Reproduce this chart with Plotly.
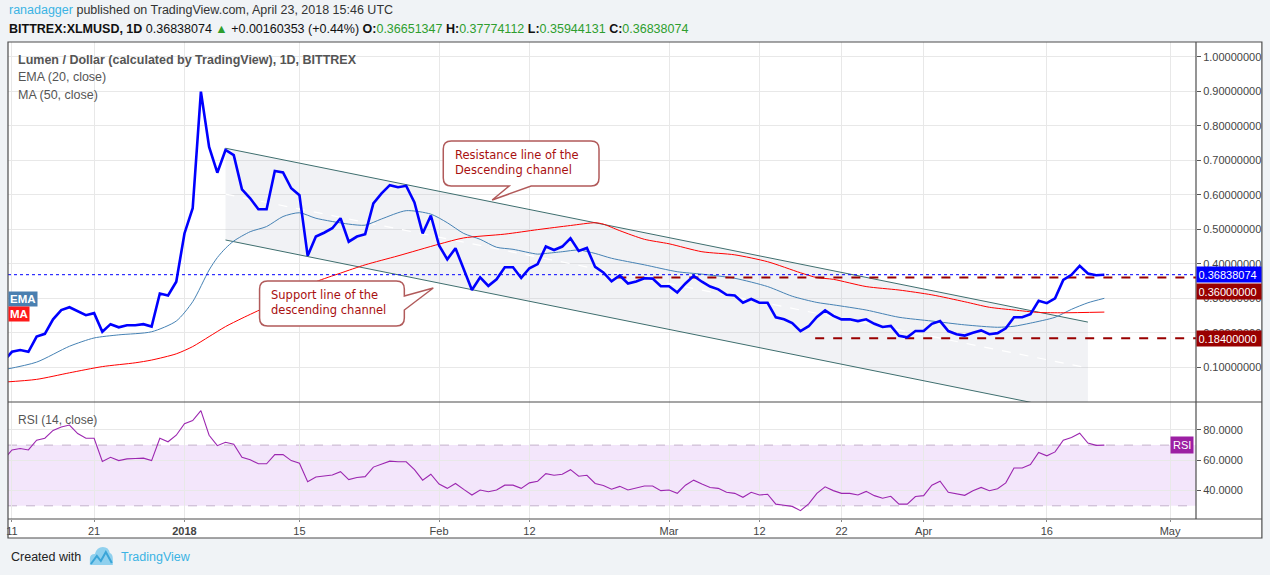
import pandas as pd
import plotly.graph_objects as go
from plotly.subplots import make_subplots

# ---------------- data ----------------
close_start = "2017-12-10"
close = [0.118, 0.145, 0.150, 0.145, 0.189, 0.197, 0.239, 0.266, 0.274, 0.262,
         0.251, 0.257, 0.203, 0.225, 0.216, 0.222, 0.222, 0.225, 0.218, 0.314,
         0.308, 0.348, 0.488, 0.561, 0.899, 0.739, 0.664, 0.730, 0.715, 0.616,
         0.590, 0.558, 0.558, 0.669, 0.665, 0.619, 0.599, 0.423, 0.479, 0.490,
         0.503, 0.532, 0.464, 0.479, 0.486, 0.575, 0.604, 0.628, 0.622, 0.626,
         0.578, 0.488, 0.540, 0.453, 0.413, 0.445, 0.382, 0.324, 0.361, 0.336,
         0.355, 0.390, 0.390, 0.359, 0.387, 0.399, 0.450, 0.440, 0.450, 0.474,
         0.437, 0.446, 0.391, 0.375, 0.349, 0.366, 0.343, 0.349, 0.358, 0.357,
         0.335, 0.335, 0.317, 0.343, 0.365, 0.348, 0.334, 0.326, 0.310, 0.308,
         0.287, 0.298, 0.287, 0.287, 0.245, 0.239, 0.228, 0.205, 0.219, 0.246,
         0.265, 0.249, 0.239, 0.239, 0.234, 0.239, 0.226, 0.217, 0.220, 0.191,
         0.187, 0.205, 0.205, 0.226, 0.234, 0.205, 0.196, 0.192, 0.200, 0.207,
         0.196, 0.199, 0.213, 0.245, 0.245, 0.254, 0.293, 0.286, 0.300, 0.353,
         0.368, 0.394, 0.372, 0.367, 0.36838074]

rsi = [60.5, 66.8, 67.8, 66.8, 73.2, 74.5, 79.7, 81.9, 83.2, 77.6,
       74.5, 74.5, 59.2, 62.0, 59.8, 60.9, 61.2, 61.4, 59.8, 74.5,
       72.2, 76.5, 84.1, 86.2, 92.7, 76.5, 69.6, 71.9, 70.6, 62.0,
       60.3, 57.7, 57.7, 63.7, 63.7, 59.8, 58.1, 45.8, 49.0, 49.7,
       50.3, 52.5, 47.3, 48.6, 49.2, 55.5, 57.7, 59.4, 59.0, 59.0,
       53.8, 46.9, 50.8, 44.3, 41.5, 44.7, 40.8, 37.1, 40.4, 39.3,
       40.4, 43.6, 43.6, 41.5, 45.1, 46.2, 51.2, 50.1, 50.8, 53.8,
       49.5, 50.1, 44.7, 43.4, 40.9, 42.8, 40.4, 41.5, 43.0, 43.0,
       40.0, 40.4, 38.2, 43.6, 46.9, 44.3, 42.1, 41.5, 38.9, 38.2,
       35.6, 38.9, 37.1, 37.6, 31.1, 30.4, 29.6, 26.8, 31.3, 38.2,
       42.5, 40.0, 38.2, 38.2, 37.1, 39.5, 36.7, 35.0, 36.3, 31.1,
       31.1, 36.1, 36.7, 43.6, 46.2, 38.9, 37.8, 36.9, 39.9, 42.1,
       39.9, 41.2, 45.1, 54.9, 54.9, 57.2, 65.2, 62.9, 65.5, 73.2,
       75.0, 77.8, 71.3, 69.8, 70.0]

ema_dates = ["2017-12-10", "2017-12-14", "2017-12-18", "2017-12-21", "2017-12-24",
             "2017-12-28", "2017-12-31", "2018-01-02", "2018-01-04", "2018-01-05",
             "2018-01-06", "2018-01-07", "2018-01-09", "2018-01-11", "2018-01-13",
             "2018-01-15", "2018-01-17", "2018-01-21", "2018-01-23", "2018-01-25",
             "2018-01-28", "2018-01-31", "2018-02-02", "2018-02-04", "2018-02-06",
             "2018-02-08", "2018-02-10", "2018-02-13", "2018-02-14", "2018-02-16",
             "2018-02-18", "2018-02-20", "2018-02-22", "2018-02-26", "2018-03-02",
             "2018-03-05", "2018-03-09", "2018-03-13", "2018-03-16", "2018-03-19",
             "2018-03-21", "2018-03-25", "2018-03-29", "2018-04-02", "2018-04-06",
             "2018-04-10", "2018-04-12", "2018-04-14", "2018-04-17", "2018-04-19",
             "2018-04-21", "2018-04-23"]
ema = [0.093, 0.115, 0.161, 0.185, 0.194, 0.203, 0.234, 0.290, 0.382, 0.418,
       0.445, 0.466, 0.493, 0.508, 0.537, 0.548, 0.532, 0.515, 0.512, 0.530,
       0.554, 0.544, 0.519, 0.488, 0.471, 0.448, 0.442, 0.428, 0.430, 0.435,
       0.440, 0.430, 0.416, 0.397, 0.377, 0.370, 0.358, 0.334, 0.306, 0.288,
       0.281, 0.266, 0.245, 0.234, 0.223, 0.216, 0.219, 0.228, 0.245, 0.268,
       0.287, 0.300]

ma_dates = ["2017-12-10", "2017-12-14", "2017-12-18", "2017-12-22", "2017-12-26",
            "2017-12-28", "2017-12-31", "2018-01-02", "2018-01-04", "2018-01-06",
            "2018-01-08", "2018-01-11", "2018-01-14", "2018-01-17", "2018-01-20",
            "2018-01-23", "2018-01-27", "2018-02-01", "2018-02-04", "2018-02-09",
            "2018-02-13", "2018-02-17", "2018-02-20", "2018-02-21", "2018-02-23",
            "2018-02-26", "2018-03-01", "2018-03-05", "2018-03-09", "2018-03-13",
            "2018-03-17", "2018-03-19", "2018-03-21", "2018-03-25", "2018-03-29",
            "2018-04-02", "2018-04-06", "2018-04-09", "2018-04-12", "2018-04-15",
            "2018-04-18", "2018-04-23"]
ma = [0.057, 0.065, 0.084, 0.102, 0.113, 0.121, 0.139, 0.160, 0.189, 0.218,
      0.242, 0.276, 0.314, 0.348, 0.373, 0.397, 0.423, 0.457, 0.475, 0.486,
      0.499, 0.511, 0.519, 0.515, 0.496, 0.471, 0.458, 0.435, 0.426, 0.406,
      0.374, 0.360, 0.355, 0.334, 0.324, 0.310, 0.290, 0.274, 0.266, 0.259,
      0.258, 0.260]

channel_dates = ["2018-01-06", "2018-04-21"]
channel_upper = [0.735, 0.231]
channel_lower = [0.469, -0.035]
channel_mid = [0.602, 0.098]

resistance_level = 0.36
resistance_start = "2018-02-22 17:00"
support_level = 0.184
support_start = "2018-03-18 19:00"
last_price = 0.36838074

x_range = ["2017-12-10 12:20", "2018-05-04 03:50"]
tick_dates = ["2017-12-11", "2017-12-21", "2018-01-01", "2018-01-15", "2018-02-01",
              "2018-02-12", "2018-03-01", "2018-03-12", "2018-03-22", "2018-04-01",
              "2018-04-16", "2018-05-01"]
tick_text = ["11", "21", "<b>2018</b>", "15", "Feb", "12", "Mar", "12", "22", "Apr", "16", "May"]
price_ticks = [0.1, 0.2, 0.3, 0.4, 0.5, 0.6, 0.7, 0.8, 0.9, 1.0]
rsi_ticks = [40, 60, 80]

hdr_open, hdr_high, hdr_low, hdr_close = "0.36651347", "0.37774112", "0.35944131", "0.36838074"
hdr_change, hdr_pct = "+0.00160353", "(+0.44%)"

dates = pd.date_range(close_start, periods=len(close), freq="D")

# ---------------- geometry helpers (pixels -> paper) ----------------
W, H = 1270, 575
L, R, T, B = 6, 1196, 42, 519
def PX(px):
    return (px - L) / (R - L)
def PY(py):
    return (B - py) / (B - T)

BG = "#f0f3f6"
GRID = "#e8e8e8"
AX = "#555555"
TXT = "#4a4a4a"
GREEN = "#2e9e2e"
DARKRED = "#990000"

fig = make_subplots(rows=2, cols=1, shared_xaxes=True, vertical_spacing=0,
                    row_heights=[360 / 477, 117 / 477])

# channel fill
fig.add_trace(go.Scatter(
    x=[channel_dates[0], channel_dates[1], channel_dates[1], channel_dates[0]],
    y=[channel_upper[0], channel_upper[1], channel_lower[1], channel_lower[0]],
    fill="toself", fillcolor="rgba(170,180,195,0.17)", line=dict(width=0),
    mode="lines", hoverinfo="skip", showlegend=False), row=1, col=1)
fig.add_trace(go.Scatter(x=channel_dates, y=channel_mid, mode="lines",
                         line=dict(color="white", width=1.2, dash="dash"),
                         hoverinfo="skip", showlegend=False), row=1, col=1)
for yy in (channel_upper, channel_lower):
    fig.add_trace(go.Scatter(x=channel_dates, y=yy, mode="lines",
                             line=dict(color="#3e6e6e", width=1),
                             hoverinfo="skip", showlegend=False), row=1, col=1)

# EMA and MA
fig.add_trace(go.Scatter(x=ema_dates, y=ema, mode="lines",
                         line=dict(color="#4682b4", width=1, shape="spline", smoothing=0.7),
                         showlegend=False), row=1, col=1)
fig.add_trace(go.Scatter(x=ma_dates, y=ma, mode="lines",
                         line=dict(color="#ff0000", width=1, shape="spline", smoothing=0.7),
                         showlegend=False), row=1, col=1)

# horizontal levels
fig.add_trace(go.Scatter(x=[resistance_start, "2018-05-20"], y=[resistance_level] * 2,
                         mode="lines", line=dict(color=DARKRED, width=2, dash="dash"),
                         showlegend=False), row=1, col=1)
fig.add_trace(go.Scatter(x=[support_start, "2018-05-20"], y=[support_level] * 2,
                         mode="lines", line=dict(color=DARKRED, width=2, dash="dash"),
                         showlegend=False), row=1, col=1)

# close
fig.add_trace(go.Scatter(x=dates, y=close, mode="lines",
                         line=dict(color="#0000ff", width=2.6), showlegend=False),
              row=1, col=1)
# last price line
fig.add_trace(go.Scatter(x=[x_range[0], "2018-05-20"], y=[last_price] * 2, mode="lines",
                         line=dict(color="#0000ff", width=1, dash="dot"),
                         showlegend=False), row=1, col=1)

# RSI
fig.add_trace(go.Scatter(x=dates, y=rsi, mode="lines",
                         line=dict(color="#9c27b0", width=1.1), showlegend=False),
              row=2, col=1)

shapes = []
# white area for axes (below everything)
shapes.append(dict(type="rect", xref="paper", yref="paper", x0=PX(6), x1=PX(1262),
                   y0=PY(538), y1=PY(42), line=dict(width=0), fillcolor="white", layer="below"))
# RSI band
shapes.append(dict(type="rect", xref="x2", yref="y2", x0=x_range[0], x1=x_range[1], y0=30, y1=70,
                   fillcolor="#f3e6fb", line=dict(width=0), layer="below"))
for lv in (30, 70):
    shapes.append(dict(type="line", xref="x2", yref="y2", x0=x_range[0], x1=x_range[1], y0=lv, y1=lv,
                       line=dict(color="#c4b2cc", width=1, dash="dash"), layer="below"))

# frame
shapes.append(dict(type="rect", xref="paper", yref="paper", x0=PX(6), x1=PX(1262),
                   y0=PY(538), y1=PY(42), line=dict(color="#4d4d4d", width=1.2),
                   fillcolor="rgba(0,0,0,0)", layer="above"))
shapes.append(dict(type="line", xref="paper", yref="paper", x0=PX(6), x1=PX(1262),
                   y0=PY(402), y1=PY(402), line=dict(color="#4d4d4d", width=1.2), layer="above"))
shapes.append(dict(type="line", xref="paper", yref="paper", x0=PX(6), x1=PX(1262),
                   y0=PY(519), y1=PY(519), line=dict(color="#4d4d4d", width=1.2), layer="above"))
shapes.append(dict(type="line", xref="paper", yref="paper", x0=PX(1196), x1=PX(1196),
                   y0=PY(519), y1=PY(42), line=dict(color="#4d4d4d", width=1.2), layer="above"))


def path_from(points):
    s = ""
    for cmd, pts in points:
        s += cmd + " ".join("%.5f,%.5f" % (PX(a), PY(b)) for a, b in pts) + " "
    return s + "Z"


def callout(x0, y0, x1, y1, r, tail_side, tail):
    pts = [("M", [(x0 + r, y0)])]
    pts.append(("L", [(x1 - r, y0)]))
    pts.append(("Q", [(x1, y0), (x1, y0 + r)]))
    if tail_side == "right":
        pts.append(("L", [(x1, tail[0])]))
        pts.append(("L", [tail[1]]))
        pts.append(("L", [(x1, tail[2])]))
    pts.append(("L", [(x1, y1 - r)]))
    pts.append(("Q", [(x1, y1), (x1 - r, y1)]))
    if tail_side == "bottom":
        pts.append(("L", [(tail[0], y1)]))
        pts.append(("L", [tail[1]]))
        pts.append(("L", [(tail[2], y1)]))
    pts.append(("L", [(x0 + r, y1)]))
    pts.append(("Q", [(x0, y1), (x0, y1 - r)]))
    pts.append(("L", [(x0, y0 + r)]))
    pts.append(("Q", [(x0, y0), (x0 + r, y0)]))
    return path_from(pts)


shapes.append(dict(type="path", xref="paper", yref="paper",
                   path=callout(442, 141, 598, 186, 8, "bottom", (530, (491, 200), 508)),
                   fillcolor="white", line=dict(color="#b15a5a", width=1.5), layer="above"))
shapes.append(dict(type="path", xref="paper", yref="paper",
                   path=callout(258, 281, 403, 326, 8, "right", (296, (432, 288), 310)),
                   fillcolor="white", line=dict(color="#b15a5a", width=1.5), layer="above"))

# TradingView logo (simplified)
shapes.append(dict(type="path", xref="paper", yref="paper",
                   path=path_from([("M", [(88, 565)]), ("L", [(88, 559)]),
                                   ("Q", [(88, 554), (93, 554)]),
                                   ("Q", [(95, 547), (101, 547)]),
                                   ("Q", [(107, 547), (108, 553)]),
                                   ("Q", [(111, 554), (111, 559)]),
                                   ("L", [(111, 565)])]),
                   fillcolor="#8fd0ee", line=dict(width=0), layer="above"))
shapes.append(dict(type="path", xref="paper", yref="paper",
                   path="M%.5f,%.5f L%.5f,%.5f L%.5f,%.5f L%.5f,%.5f L%.5f,%.5f" % (
                       PX(89), PY(564), PX(95), PY(556), PX(99), PY(561), PX(104), PY(552), PX(110), PY(563)),
                   line=dict(color="#3aa5d8", width=2), layer="above"))

annotations = []


def ann(text, px, py, size=13, color=TXT, family="Liberation Sans, Arial, sans-serif",
        xanchor="left", yanchor="middle", **kw):
    annotations.append(dict(text=text, x=PX(px), y=PY(py), xref="paper", yref="paper",
                            xanchor=xanchor, yanchor=yanchor, showarrow=False,
                            font=dict(size=size, color=color, family=family), **kw))


# header
ann("<span style='color:#3bb3e4'>ranadagger</span> published on TradingView.com, April 23, 2018 15:46 UTC",
    5, 10, size=12.5, color="#333")
g = lambda s: "<span style='color:%s'>%s</span>" % (GREEN, s)
ann("<b>BITTREX:XLMUSD, 1D</b> %s %s %s %s <b>O:</b>%s <b>H:</b>%s <b>L:</b>%s <b>C:</b>%s" % (
    hdr_close, g("▲"), hdr_change, hdr_pct, g(hdr_open), g(hdr_high), g(hdr_low), g(hdr_close)),
    5, 29, size=12.5, color="#111")
# legend text
ann("<b>Lumen / Dollar (calculated by TradingView), 1D, BITTREX</b>", 14, 60, size=12.5, color="#555")
ann("EMA (20, close)", 14, 77, size=12.5, color="#555")
ann("MA (50, close)", 14, 95, size=12.5, color="#555")
ann("RSI (14, close)", 14, 420, size=12, color="#555")
# callout texts
ann("Resistance line of the<br>Descending channel", 452, 162, size=11.5, color="#a81010",
    family="DejaVu Sans, Verdana, sans-serif", align="left")
ann("Support line of the<br>descending channel", 267, 302, size=11.5, color="#a81010",
    family="DejaVu Sans, Verdana, sans-serif", align="left")
# left scale labels
ann("<b>EMA</b>", 6, 299, size=11.5, color="white", bgcolor="#4a7fb0", borderpad=1)
ann("<b>MA</b>", 6, 314, size=11.5, color="white", bgcolor="#ff1a1a", borderpad=1)
# footer
ann("Created with", 7, 557, size=12.5, color="#222")
ann("TradingView", 117, 557, size=12.5, color="#3bb3e4")


def axis_label(text, yval, bg, yshift=0):
    annotations.append(dict(text=text, x=PX(1196), y=yval, xref="paper", yref="y",
                            xanchor="left", yanchor="middle", showarrow=False,
                            bgcolor=bg, width=61, align="left", borderpad=1.5,
                            yshift=yshift,
                            font=dict(size=11, color="white", family="Liberation Sans, Arial")))


axis_label("0.36838074", last_price, "#0000ff", 0)
axis_label("0.36000000", resistance_level, "#990000", -14)
axis_label("0.18400000", support_level, "#990000", 0)
annotations.append(dict(text="RSI", x=PX(1194), y=70, xref="paper", yref="y2",
                        xanchor="right", yanchor="middle", showarrow=False,
                        bgcolor="#9c1fa3", borderpad=2,
                        font=dict(size=11, color="white", family="Liberation Sans Narrow, Arial")))

fig.update_layout(
    width=W, height=H, margin=dict(l=L, r=W - R, t=T, b=H - B),
    paper_bgcolor=BG, plot_bgcolor="white", showlegend=False,
    shapes=shapes, annotations=annotations, hovermode=False,
    font=dict(family="Liberation Sans, Arial, sans-serif"),
)
xcommon = dict(range=x_range, tickvals=tick_dates, ticktext=tick_text, showgrid=True,
               gridcolor=GRID, gridwidth=1, zeroline=False, showline=False)
fig.update_xaxes(**xcommon, showticklabels=False, row=1, col=1)
fig.update_xaxes(**xcommon, showticklabels=True, ticks="outside", ticklen=2,
                 tickcolor="#888",
                 tickfont=dict(size=11, color="#444",
                               family="Liberation Sans Narrow, Arial Narrow, sans-serif"),
                 row=2, col=1)
ycommon = dict(side="right", showgrid=True, gridcolor=GRID, zeroline=False, ticks="outside",
               ticklen=4, tickcolor=AX, showline=False, automargin=False,
               tickfont=dict(size=11, color="#444", family="Liberation Sans, Arial"))
fig.update_yaxes(**ycommon, range=[-0.0006, 1.0429], tickvals=price_ticks, tickformat=".8f",
                 row=1, col=1)
fig.update_yaxes(**ycommon, range=[21.3, 98.4], tickvals=rsi_ticks, tickformat=".4f",
                 row=2, col=1)

fig.write_html("out.html", config={"displayModeBar": False},
               post_script="document.body.style.margin='0';document.body.style.background='%s';" % BG)
